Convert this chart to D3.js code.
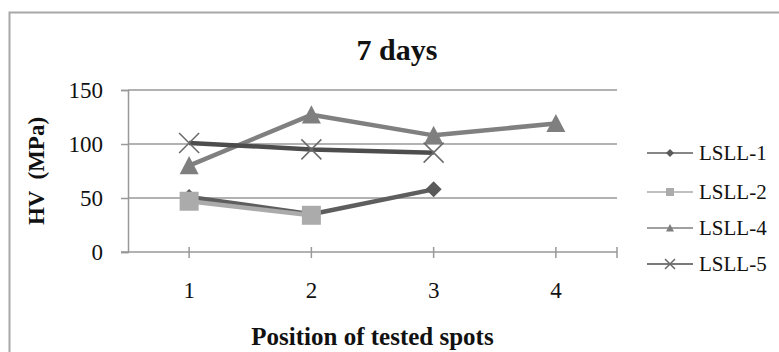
<!DOCTYPE html>
<meta charset="utf-8">
<style>
body { margin:0; background:#fff; }
svg text { font-family: "Liberation Serif", "Times New Roman", serif; fill:#111; }
.axis path, .axis line { stroke:#999; stroke-width:1.5px; }
.grid line { stroke:#999; stroke-width:1.5px; }
</style>
<body>
<svg width="779" height="352" id="vis"></svg>
</body>
<script src="https://d3js.org/d3.v7.min.js"></script>
<script>
// values
var positions = ["1", "2", "3", "4"];
var yTicks = [0, 50, 100, 150];
var seriesNames = ["LSLL-1", "LSLL-2", "LSLL-4", "LSLL-5"];
var lsll1 = [51, 35, 58];
var lsll2 = [47, 34];
var lsll4 = [80, 127, 108, 119];
var lsll5 = [101, 95, 92];

var seriesValues = [lsll1, lsll2, lsll4, lsll5];
var lineColours = ["#5e5e5e", "#ababab", "#808080", "#4d4d4d"];
var markerColours = ["#5a5a5a", "#ababab", "#7f7f7f", "#6a6a6a"];
var markerTypes = ["diamond", "square", "triangle", "cross"];
var serif = '"Liberation Serif", "Times New Roman", serif';

var svg = d3.select("svg");

var x = d3.scaleBand().domain(positions).range([128, 617]),
    y = d3.scaleLinear().domain([0, 150]).range([252, 90]);

// outer chart border
svg.append("rect")
    .attr("x", 9.5).attr("y", 12.5)
    .attr("width", 820).attr("height", 400)
    .attr("fill", "none")
    .attr("stroke", "#a8a8a8")
    .attr("stroke-width", 2);

svg.append("text")
    .attr("x", 397).attr("y", 60)
    .attr("text-anchor", "middle")
    .style("font-family", serif)
    .style("font-size", "30px")
    .style("font-weight", "bold")
    .text("7 days");

// gridlines
svg.append("g").attr("class", "grid")
  .selectAll("line").data(yTicks.slice(1)).enter().append("line")
    .attr("x1", x.range()[0]).attr("x2", x.range()[1])
    .attr("y1", function(d){ return y(d); })
    .attr("y2", function(d){ return y(d); });

var yaxis = svg.append("g")
    .attr("class", "axis axis--y")
    .attr("transform", "translate(" + x.range()[0] + ",0)")
    .call(d3.axisLeft(y).tickValues(yTicks).tickSize(7).tickPadding(18));
yaxis.attr("font-family", null);
yaxis.selectAll("text").style("font-family", serif).style("font-size", "23px").attr("fill", "#111");

var xaxis = svg.append("g")
    .attr("class", "axis axis--x")
    .attr("transform", "translate(0," + y(0) + ")")
    .call(d3.axisBottom(x).tickSizeOuter(0));
xaxis.attr("font-family", null);
xaxis.select(".domain").attr("d", "M" + (x.range()[0] - 7) + ",0H" + x.range()[1]);
xaxis.selectAll(".tick line").attr("y1", -5).attr("y2", 6);
xaxis.selectAll(".tick text")
    .attr("y", 30).attr("dy", "0.71em")
    .style("font-family", serif)
    .style("font-size", "23px").attr("fill", "#111");
xaxis.append("line")
    .attr("x1", x.range()[1]).attr("x2", x.range()[1])
    .attr("y1", -5).attr("y2", 6);

svg.append("text")
    .attr("x", (x.range()[0] + x.range()[1]) / 2).attr("y", 345)
    .attr("text-anchor", "middle")
    .style("font-family", serif)
    .style("font-size", "25px")
    .style("font-weight", "bold")
    .text("Position of tested spots");

svg.append("text")
    .attr("transform", "translate(44," + ((y(0) + y(150)) / 2) + ") rotate(-90)")
    .attr("text-anchor", "middle")
    .style("font-family", serif)
    .style("font-size", "23px")
    .style("font-weight", "bold")
    .style("white-space", "pre")
    .text("HV  (MPa)");

function cx(i) { return x(positions[i]) + x.bandwidth() / 2; }

function drawMarker(g, type, px, py, s, colour) {
  if (type == "diamond") {
    g.append("path")
      .attr("d", "M" + px + "," + (py - s) + "L" + (px + s) + "," + py + "L" + px + "," + (py + s) + "L" + (px - s) + "," + py + "Z")
      .attr("fill", colour);
  } else if (type == "square") {
    g.append("rect")
      .attr("x", px - s).attr("y", py - s)
      .attr("width", 2 * s).attr("height", 2 * s)
      .attr("fill", colour);
  } else if (type == "triangle") {
    g.append("path")
      .attr("d", "M" + px + "," + (py - s) + "L" + (px + s) + "," + (py + s * 0.9) + "L" + (px - s) + "," + (py + s * 0.9) + "Z")
      .attr("fill", colour);
  } else {
    g.append("path")
      .attr("d", "M" + (px - s) + "," + (py - s) + "L" + (px + s) + "," + (py + s) + "M" + (px - s) + "," + (py + s) + "L" + (px + s) + "," + (py - s))
      .attr("stroke", colour).attr("stroke-width", 1.5).attr("fill", "none");
  }
}

var line = d3.line()
    .x(function(d, i){ return cx(i); })
    .y(function(d){ return y(d); });

var plot = svg.append("g");
var markerSizes = [8, 9.5, 9.5, 10];
seriesValues.forEach(function(vals, k) {
  plot.append("path")
    .datum(vals)
    .attr("d", line)
    .attr("fill", "none")
    .attr("stroke", lineColours[k])
    .attr("stroke-width", 4.5)
    .attr("stroke-linejoin", "round");
  vals.forEach(function(v, i) {
    drawMarker(plot, markerTypes[k], cx(i), y(v), markerSizes[k], markerColours[k]);
  });
});

// legend
var legend = svg.append("g");
var legendRows = [153, 192, 228, 264];
seriesNames.forEach(function(name, k) {
  var ly = legendRows[k];
  legend.append("line")
    .attr("x1", 647).attr("x2", 693)
    .attr("y1", ly).attr("y2", ly)
    .attr("stroke", lineColours[k]).attr("stroke-width", 1.5);
  drawMarker(legend, markerTypes[k], 670, ly, k == 3 ? 5 : 4, markerColours[k]);
  legend.append("text")
    .attr("x", 699).attr("y", ly)
    .attr("dy", "0.35em")
    .style("font-family", serif)
    .style("font-size", "21px")
    .text(name);
});
</script>
